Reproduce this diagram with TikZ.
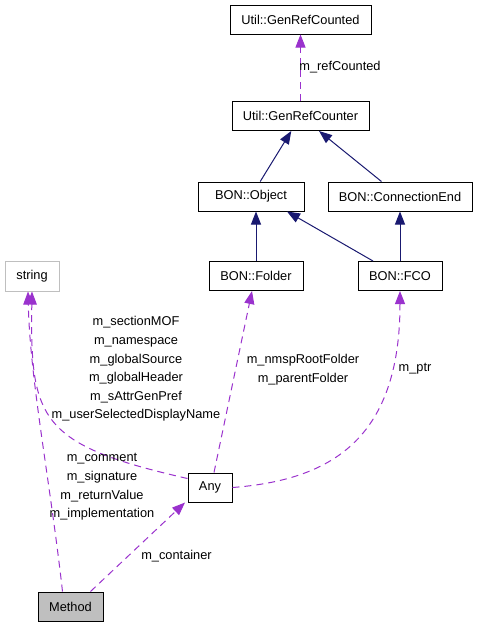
\documentclass[tikz,border=0pt]{standalone}
\usepackage{fontspec}
\setmainfont{Liberation Sans}
\usepackage{tikz}
\usetikzlibrary{arrows.meta}
\definecolor{edgepurple}{RGB}{154,50,205}
\definecolor{edgenavy}{RGB}{25,25,112}
\definecolor{boxgray}{RGB}{191,191,191}

\begin{document}
\begin{tikzpicture}[x=1pt, y=-1pt,
    cls/.style={draw=black, fill=white, line width=1pt, inner sep=0pt,
        minimum height=29pt, font=\fontsize{12.8}{15}\selectfont},
    lbl/.style={inner sep=0pt, align=center, font=\fontsize{12.8}{18.6}\selectfont},
    member/.style={draw=edgepurple, line width=1pt, dash pattern=on 7pt off 5pt,
        -{Triangle[length=13pt,width=10pt,fill=edgepurple]}},
    inherit/.style={draw=edgenavy, line width=1pt,
        -{Triangle[length=13pt,width=10pt,fill=edgenavy]}}]
    \useasboundingbox (0,0) rectangle (477,627);

    % Klassen
    \node[cls, minimum width=141pt] (GenRefCounted) at (300.5,19.5) {Util::GenRefCounted};
    \node[cls, minimum width=137pt] (GenRefCounter) at (300.5,116) {Util::GenRefCounter};
    \node[cls, minimum width=106pt] (Object) at (251,196.5) {BON::Object};
    \node[cls, minimum width=144pt] (ConnectionEnd) at (400,196.5) {BON::ConnectionEnd};
    \node[cls, minimum width=94pt] (Folder) at (256,276) {BON::Folder};
    \node[cls, minimum width=84pt] (FCO) at (400,276) {BON::FCO};
    \node[cls, draw=boxgray, minimum width=54pt, minimum height=30pt] (string) at (32,276) {string};
    \node[cls, minimum width=44pt] (Any) at (210,487.5) {Any};
    \node[cls, fill=boxgray, minimum width=65pt] (Method) at (70.5,606.5) {Method};

    % Overerving
    \draw[inherit] (Object) -- (GenRefCounter);
    \draw[inherit] (ConnectionEnd) -- (GenRefCounter);
    \draw[inherit] (Folder.north) -- (Folder.north |- Object.south);
    \draw[inherit] ([xshift=-27pt]FCO.north) -- ([xshift=36pt]Object.south);
    \draw[inherit] (FCO) -- (ConnectionEnd);

    % Leden
    \draw[member] (GenRefCounter) -- (GenRefCounted);
    \node[lbl] (lblRefCounted) at (340,67) {m\_refCounted};

    \draw[member] ([xshift=4pt]Any.north) -- ([xshift=-4pt]Folder.south);
    \node[lbl] (lblFolder) at (303,369.5) {m\_nmspRootFolder\\m\_parentFolder};

    \draw[member] (Any.east) .. controls (330,480) and (400,440) .. (FCO.south);
    \node[lbl] (lblPtr) at (415,369) {m\_ptr};

    \draw[member] ([yshift=9pt]Any.west) .. controls (40,445) and (30,420) .. (string.south);
    \node[lbl] (lblString) at (136,369) {m\_sectionMOF\\m\_namespace\\m\_globalSource\\m\_globalHeader\\m\_sAttrGenPref\\m\_userSelectedDisplayName};

    \draw[member] ([xshift=-8pt]Method.north) .. controls (50,480) and (30,380) .. ([xshift=-4pt]string.south);
    \node[lbl] (lblMethod) at (102,487) {m\_comment\\m\_signature\\m\_returnValue\\m\_implementation};

    \draw[member] ([xshift=20pt]Method.north) -- ([xshift=-25pt]Any.south);
    \node[lbl] (lblContainer) at (176.5,556.5) {m\_container};
\end{tikzpicture}
\end{document}
